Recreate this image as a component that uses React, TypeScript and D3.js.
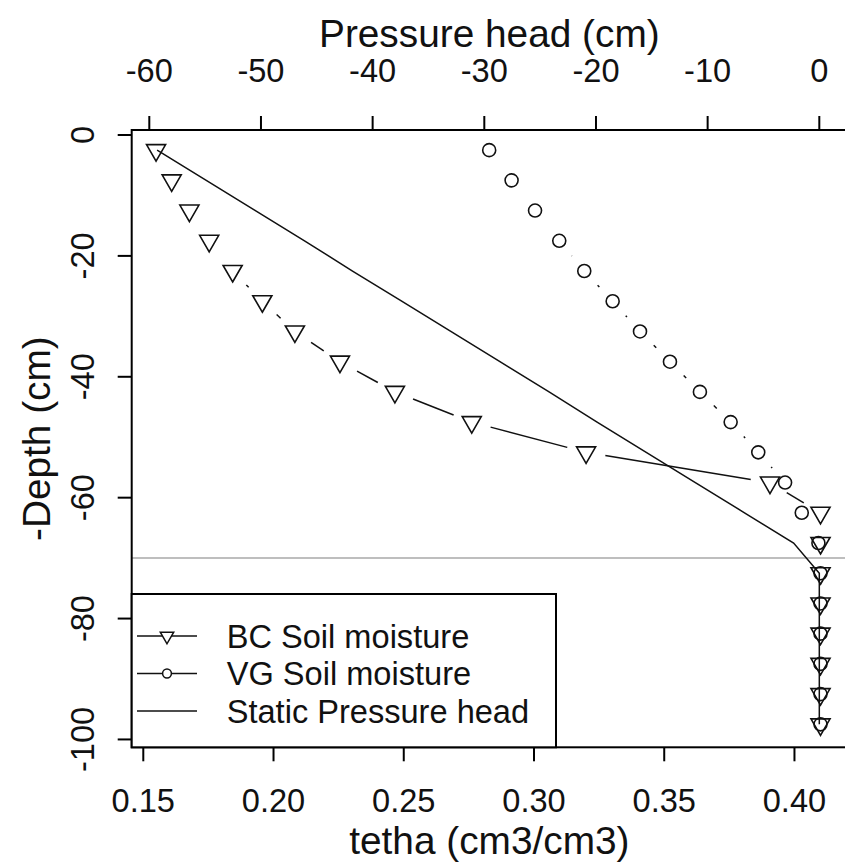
import React from "react";
import * as d3 from "d3";

// ---- data ----
const depths = [-2.5, -7.5, -12.5, -17.5, -22.5, -27.5, -32.5, -37.5, -42.5, -47.5, -52.5, -57.5, -62.5, -67.5, -72.5, -77.5, -82.5, -87.5, -92.5, -97.5];
const bcTheta = [0.1549, 0.1609, 0.1677, 0.1753, 0.1843, 0.1957, 0.2082, 0.2255, 0.2466, 0.2761, 0.32, 0.3906, 0.41, 0.41, 0.41, 0.41, 0.41, 0.41, 0.41, 0.41];
const vgTheta = [0.2828, 0.2914, 0.3004, 0.3097, 0.3193, 0.3302, 0.3407, 0.3522, 0.3637, 0.3755, 0.3861, 0.3964, 0.4028, 0.4092, 0.41, 0.41, 0.41, 0.41, 0.41, 0.41];
const staticHead = [-59.3, -54.9, -50.5, -46.1, -41.8, -37.4, -33.0, -28.6, -24.2, -19.9, -15.5, -11.1, -6.7, -2.3, 0, 0, 0, 0, 0, 0];
const waterTable = -70;

const thetaTicks = [0.15, 0.2, 0.25, 0.3, 0.35, 0.4];
const headTicks = [-60, -50, -40, -30, -20, -10, 0];
const depthTicks = [0, -20, -40, -60, -80, -100];
const legendLabels = ["BC Soil moisture", "VG Soil moisture", "Static Pressure head"];

const W = 845, H = 865;
const L = 131.7, R = 847, T = 130, B = 747.3;
const FONT = "'Liberation Sans', Arial, sans-serif";

const xTheta = d3.scaleLinear().domain([0.14555, 0.42017]).range([L, R]);
const xHead = d3.scaleLinear().domain([-61.576, 2.48]).range([L, R]);
const yDepth = d3.scaleLinear().domain([0.83, -101.3]).range([T, B]);

const GAP = 19.5;

function brokenSegments(pts: [number, number][]) {
  const segs: [number, number, number, number][] = [];
  for (let i = 1; i < pts.length; i++) {
    const [x0, y0] = pts[i - 1];
    const [x1, y1] = pts[i];
    const len = Math.hypot(x1 - x0, y1 - y0);
    const f = GAP / len;
    if (f < 0.5) {
      segs.push([x0 + f * (x1 - x0), y0 + f * (y1 - y0), x1 - f * (x1 - x0), y1 - f * (y1 - y0)]);
    }
  }
  return segs;
}

function triPath(x: number, y: number, s: number) {
  return `M${x},${y + 1.55 * s}L${x + 1.342 * s},${y - 0.775 * s}L${x - 1.342 * s},${y - 0.775 * s}Z`;
}

export default function App() {
  const bcPts: [number, number][] = depths.map((d, i) => [xTheta(bcTheta[i]), yDepth(d)]);
  const vgPts: [number, number][] = depths.map((d, i) => [xTheta(vgTheta[i]), yDepth(d)]);
  const staticLine = d3.line<number>().x((_, i) => xHead(staticHead[i])).y((d) => yDepth(d))(depths) || "";
  const MS = 7.1;
  const legRows = [636, 673.5, 711];
  return (
    <svg width={W} height={H} style={{ position: "absolute", left: 0, top: 0, background: "#fff" }} fontFamily={FONT}>
      <rect x={0} y={0} width={W} height={H} fill="#fff" />
      <defs>
        <clipPath id="plotclip">
          <rect x={L} y={T} width={R - L} height={B - T} />
        </clipPath>
      </defs>
      <g clipPath="url(#plotclip)">
        {/* water table */}
        <line x1={L} x2={R} y1={yDepth(waterTable)} y2={yDepth(waterTable)} stroke="#bebebe" strokeWidth={2} />
        {/* static pressure head */}
        <path d={staticLine} fill="none" stroke="#111" strokeWidth={1.5} />
        {/* BC */}
        {brokenSegments(bcPts).map((s, i) => (
          <line key={"bs" + i} x1={s[0]} y1={s[1]} x2={s[2]} y2={s[3]} stroke="#111" strokeWidth={1.5} />
        ))}
        {bcPts.map((p, i) => (
          <path key={"bp" + i} d={triPath(p[0], p[1], MS)} fill="none" stroke="#111" strokeWidth={1.6} />
        ))}
        {/* VG */}
        {brokenSegments(vgPts).map((s, i) => (
          <line key={"vs" + i} x1={s[0]} y1={s[1]} x2={s[2]} y2={s[3]} stroke="#111" strokeWidth={1.5} />
        ))}
        {vgPts.map((p, i) => (
          <circle key={"vp" + i} cx={p[0]} cy={p[1]} r={MS - 0.6} fill="none" stroke="#111" strokeWidth={1.6} />
        ))}
      </g>

      {/* box */}
      <rect x={L} y={T} width={R - L} height={B - T} fill="none" stroke="#000" strokeWidth={2} />

      {/* bottom axis */}
      {thetaTicks.map((t) => (
        <g key={"bt" + t}>
          <line x1={xTheta(t)} x2={xTheta(t)} y1={B} y2={B + 14} stroke="#000" strokeWidth={2} />
          <text x={xTheta(t)} y={811.5} fontSize={32.6} textAnchor="middle" fill="#111">{t.toFixed(2)}</text>
        </g>
      ))}
      <text x={(L + R) / 2} y={854} fontSize={38.8} textAnchor="middle" fill="#111">tetha (cm3/cm3)</text>

      {/* top axis */}
      {headTicks.map((t) => (
        <g key={"tt" + t}>
          <line x1={xHead(t)} x2={xHead(t)} y1={T} y2={T - 14} stroke="#000" strokeWidth={2} />
          <text x={xHead(t)} y={81.5} fontSize={32.6} textAnchor="middle" fill="#111">{String(t)}</text>
        </g>
      ))}
      <text x={(L + R) / 2} y={47} fontSize={38.8} textAnchor="middle" fill="#111">Pressure head (cm)</text>

      {/* left axis */}
      {depthTicks.map((t) => (
        <g key={"lt" + t}>
          <line x1={L - 14} x2={L} y1={yDepth(t)} y2={yDepth(t)} stroke="#000" strokeWidth={2} />
          <text transform={`translate(93.5,${yDepth(t)}) rotate(-90)`} fontSize={32.6} textAnchor="middle" fill="#111">{String(t)}</text>
        </g>
      ))}
      <text transform={`translate(50,${(T + B) / 2}) rotate(-90)`} fontSize={38.8} textAnchor="middle" fill="#111">-Depth (cm)</text>

      {/* legend */}
      <rect x={L} y={594} width={556 - L} height={B - 594} fill="#fff" stroke="#000" strokeWidth={2} />
      {legendLabels.map((lab, i) => (
        <g key={"lg" + i}>
          <line x1={137} x2={197} y1={legRows[i]} y2={legRows[i]} stroke="#111" strokeWidth={1.5} />
          {i === 0 && <path d={triPath(167, legRows[i], 5)} fill="#fff" stroke="#111" strokeWidth={1.5} />}
          {i === 1 && <circle cx={167} cy={legRows[i]} r={4.4} fill="#fff" stroke="#111" strokeWidth={1.5} />}
          <text x={226.7} y={legRows[i] + 11.5} fontSize={32.6} fill="#111">{lab}</text>
        </g>
      ))}
    </svg>
  );
}
